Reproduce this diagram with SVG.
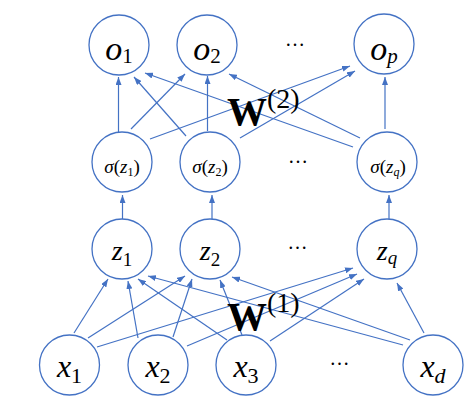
<svg xmlns="http://www.w3.org/2000/svg" width="473" height="407" viewBox="0 0 473 407">
<style>
.node circle{fill:#fff;stroke:#4472C4;stroke-width:1.3}
.edges line{stroke:#4472C4;stroke-width:1.2;marker-end:url(#ah)}
.it{font-style:italic}
.up{font-style:normal}
.w{font-weight:bold}
</style>
<defs>
<marker id="ah" markerUnits="userSpaceOnUse" markerWidth="8" markerHeight="6" refX="8" refY="3" orient="auto">
<path d="M0,0 L8,3 L0,6 z" fill="#4472C4"/>
</marker>
</defs>
<rect width="473" height="407" fill="#fff"/>
<g class="edges">
<line x1="118.5" y1="132" x2="118.5" y2="77"/>
<line x1="131" y1="129" x2="185" y2="74"/>
<line x1="150" y1="139" x2="350" y2="66"/>
<line x1="186" y1="136" x2="134" y2="77"/>
<line x1="207.5" y1="131" x2="207.5" y2="76"/>
<line x1="240" y1="138" x2="355" y2="71"/>
<line x1="353" y1="147" x2="145" y2="73"/>
<line x1="360" y1="138" x2="229" y2="74"/>
<line x1="385" y1="129" x2="385" y2="77"/>
<line x1="122.5" y1="219" x2="122.5" y2="195"/>
<line x1="212" y1="219" x2="212" y2="195"/>
<line x1="389" y1="219" x2="389" y2="195"/>
<line x1="74" y1="333" x2="108" y2="279"/>
<line x1="88" y1="338" x2="185" y2="276"/>
<line x1="97" y1="347" x2="353" y2="268"/>
<line x1="138" y1="338" x2="128" y2="281"/>
<line x1="173" y1="337" x2="192" y2="279"/>
<line x1="187" y1="346" x2="357" y2="274"/>
<line x1="227" y1="340" x2="138" y2="279"/>
<line x1="242" y1="335" x2="220" y2="280"/>
<line x1="270" y1="341" x2="364" y2="279"/>
<line x1="403" y1="345" x2="148" y2="276"/>
<line x1="410" y1="340" x2="232" y2="277"/>
<line x1="424" y1="333" x2="397" y2="283"/>
</g>
<g font-family="'Liberation Serif', 'Times New Roman', serif" fill="#000">
<g id="o1" class="node"><circle cx="119" cy="45" r="30"/><text x="119" y="60" text-anchor="middle" font-family="'Liberation Serif', serif"><tspan class="it" font-size="34">o</tspan><tspan class="up" font-size="21" dy="3">1</tspan></text></g>
<g id="o2" class="node"><circle cx="207" cy="45" r="30"/><text x="207" y="60" text-anchor="middle" font-family="'Liberation Serif', serif"><tspan class="it" font-size="34">o</tspan><tspan class="up" font-size="21" dy="3">2</tspan></text></g>
<g id="op" class="node"><circle cx="384" cy="44" r="30"/><text x="384" y="60" text-anchor="middle" font-family="'Liberation Serif', serif"><tspan class="it" font-size="34">o</tspan><tspan class="it" font-size="21" dy="3">p</tspan></text></g>
<g id="s1" class="node"><circle cx="122" cy="162" r="30"/><text x="122" y="173" text-anchor="middle" font-size="19" font-family="'Liberation Serif', serif"><tspan class="it">σ</tspan><tspan class="up">(</tspan><tspan class="it">z</tspan><tspan class="up" font-size="12" dy="3">1</tspan><tspan class="up" dy="-3">)</tspan></text></g>
<g id="s2" class="node"><circle cx="210" cy="162" r="30"/><text x="210" y="173" text-anchor="middle" font-size="19" font-family="'Liberation Serif', serif"><tspan class="it">σ</tspan><tspan class="up">(</tspan><tspan class="it">z</tspan><tspan class="up" font-size="12" dy="3">2</tspan><tspan class="up" dy="-3">)</tspan></text></g>
<g id="sq" class="node"><circle cx="387" cy="162" r="30"/><text x="388" y="173" text-anchor="middle" font-size="19" font-family="'Liberation Serif', serif"><tspan class="it">σ</tspan><tspan class="up">(</tspan><tspan class="it">z</tspan><tspan class="it" font-size="12" dy="3">q</tspan><tspan class="up" dy="-3">)</tspan></text></g>
<g id="z1" class="node"><circle cx="122" cy="249" r="30"/><text x="122" y="260" text-anchor="middle" font-family="'Liberation Serif', serif"><tspan class="it" font-size="28">z</tspan><tspan class="up" font-size="19" dy="6">1</tspan></text></g>
<g id="z2" class="node"><circle cx="210" cy="249" r="30"/><text x="210" y="260" text-anchor="middle" font-family="'Liberation Serif', serif"><tspan class="it" font-size="28">z</tspan><tspan class="up" font-size="19" dy="6">2</tspan></text></g>
<g id="zq" class="node"><circle cx="387" cy="249" r="30"/><text x="387" y="260" text-anchor="middle" font-family="'Liberation Serif', serif"><tspan class="it" font-size="28">z</tspan><tspan class="it" font-size="19" dy="4">q</tspan></text></g>
<g id="x1" class="node"><circle cx="69.5" cy="365" r="30"/><text x="69.5" y="377" text-anchor="middle" font-family="'Liberation Serif', serif"><tspan class="it" font-size="32">x</tspan><tspan class="up" font-size="22" dy="6">1</tspan></text></g>
<g id="x2" class="node"><circle cx="158" cy="365" r="30"/><text x="158" y="377" text-anchor="middle" font-family="'Liberation Serif', serif"><tspan class="it" font-size="32">x</tspan><tspan class="up" font-size="22" dy="6">2</tspan></text></g>
<g id="x3" class="node"><circle cx="246" cy="365" r="30"/><text x="246" y="377" text-anchor="middle" font-family="'Liberation Serif', serif"><tspan class="it" font-size="32">x</tspan><tspan class="up" font-size="22" dy="6">3</tspan></text></g>
<g id="xd" class="node"><circle cx="433" cy="365" r="30"/><text x="433" y="377" text-anchor="middle" font-family="'Liberation Serif', serif"><tspan class="it" font-size="32">x</tspan><tspan class="it" font-size="22" dy="6">d</tspan></text></g>
<g id="labels" font-family="'Liberation Serif', serif">
<text font-size="20" x="295" y="46" text-anchor="middle">…</text>
<text font-size="20" x="298" y="163" text-anchor="middle">…</text>
<text font-size="20" x="297.5" y="249" text-anchor="middle">…</text>
<text font-size="20" x="339.5" y="365" text-anchor="middle">…</text>
<text x="227" y="125"><tspan class="w" font-size="40">W</tspan><tspan font-size="28" dy="-17">(2)</tspan></text>
<text x="227" y="330"><tspan class="w" font-size="40">W</tspan><tspan font-size="28" dy="-18">(1)</tspan></text>
</g>
</g>
</svg>
